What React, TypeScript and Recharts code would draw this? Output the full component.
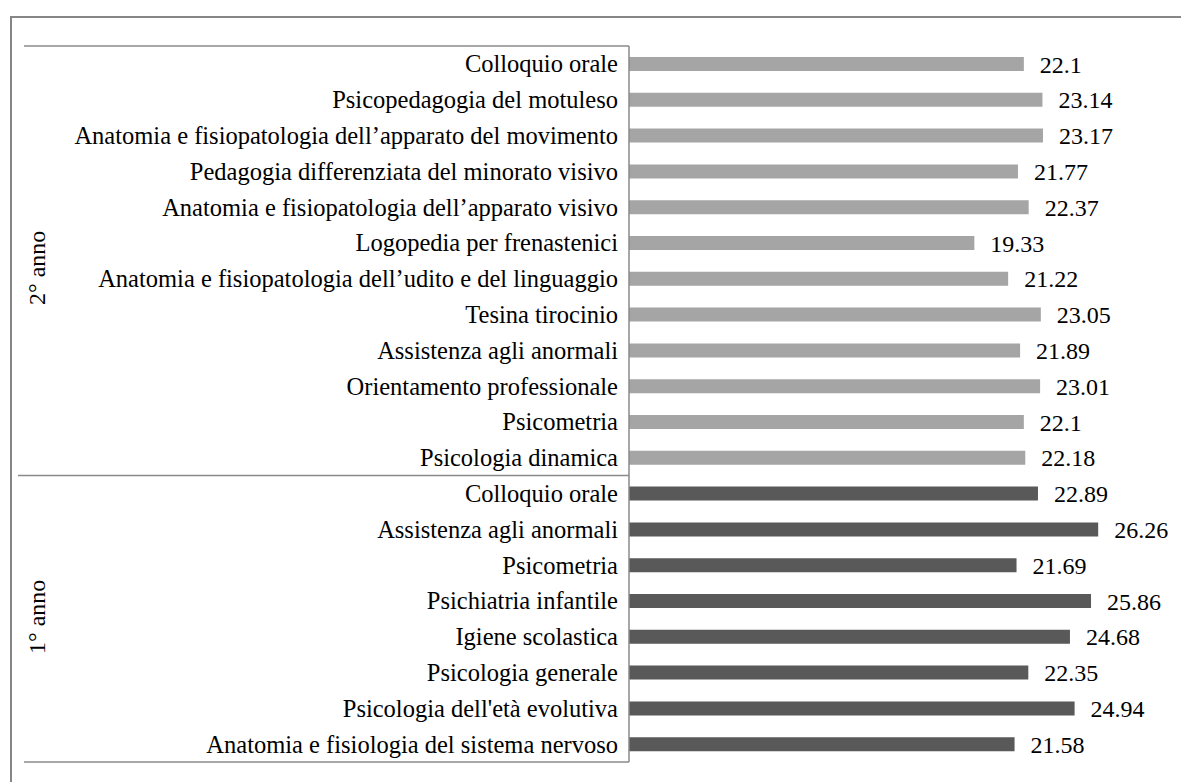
import React from 'react';
import { BarChart, Bar, XAxis, YAxis, LabelList, Cell } from 'recharts';

const categories: string[] = [
  'Colloquio orale',
  'Psicopedagogia del motuleso',
  'Anatomia e fisiopatologia dell’apparato del movimento',
  'Pedagogia differenziata del minorato visivo',
  'Anatomia e fisiopatologia dell’apparato visivo',
  'Logopedia per frenastenici',
  'Anatomia e fisiopatologia dell’udito e del linguaggio',
  'Tesina tirocinio',
  'Assistenza agli anormali',
  'Orientamento professionale',
  'Psicometria',
  'Psicologia dinamica',
  'Colloquio orale',
  'Assistenza agli anormali',
  'Psicometria',
  'Psichiatria infantile',
  'Igiene scolastica',
  'Psicologia generale',
  "Psicologia dell'età evolutiva",
  'Anatomia e fisiologia del sistema nervoso',
];

const values: number[] = [
  22.1, 23.14, 23.17, 21.77, 22.37, 19.33, 21.22, 23.05, 21.89, 23.01, 22.1, 22.18,
  22.89, 26.26, 21.69, 25.86, 24.68, 22.35, 24.94, 21.58,
];

const groups: string[] = [
  '2° anno', '2° anno', '2° anno', '2° anno', '2° anno', '2° anno',
  '2° anno', '2° anno', '2° anno', '2° anno', '2° anno', '2° anno',
  '1° anno', '1° anno', '1° anno', '1° anno', '1° anno', '1° anno', '1° anno', '1° anno',
];

const groupColors: Record<string, string> = {
  '2° anno': '#A5A5A5',
  '1° anno': '#595959',
};

const groupLabelShift: Record<string, number> = {
  '2° anno': 7,
  '1° anno': -2,
};

const data = categories.map((c, i) => ({
  key: `k${i}`,
  label: c,
  value: values[i],
  group: groups[i],
}));

const FONT = '"Liberation Serif", "Times New Roman", serif';
const CHART_W = 1181;
const CHART_H = 782;
const MARGIN = { top: 46, right: 16, bottom: 20, left: 0 };
const AXIS_W = 629;
const BAND = (CHART_H - MARGIN.top - MARGIN.bottom) / categories.length;
const LINE = '#8a8a8a';

const Tick = (props: any) => {
  const { x, y, payload } = props;
  const idx = payload.index as number;
  const axisX = x + 11;
  const top = y - BAND / 2;
  const bottom = y + BAND / 2;
  const els: React.ReactNode[] = [];
  const first = idx === 0 || groups[idx] !== groups[idx - 1];
  const last = idx === groups.length - 1;
  if (first) {
    els.push(
      <line key="t" x1={idx === 0 ? 24 : 18} x2={axisX} y1={top} y2={top} stroke={LINE} strokeWidth={1.5} />
    );
  }
  if (last) {
    els.push(<line key="b" x1={24} x2={axisX} y1={bottom} y2={bottom} stroke={LINE} strokeWidth={1.5} />);
  }
  let start = idx;
  while (start > 0 && groups[start - 1] === groups[idx]) start--;
  let end = idx;
  while (end < groups.length - 1 && groups[end + 1] === groups[idx]) end++;
  const count = end - start + 1;
  const midIdx = start + Math.floor(count / 2);
  if (idx === midIdx) {
    const cy = (count % 2 === 0 ? top : y) + (groupLabelShift[groups[idx]] || 0);
    els.push(
      <text
        key="g"
        x={37}
        y={cy}
        transform={`rotate(-90 37 ${cy})`}
        textAnchor="middle"
        dominantBaseline="central"
        fontFamily={FONT}
        fontSize={24}
        fill="#000"
      >
        {groups[idx]}
      </text>
    );
  }
  return (
    <g>
      {els}
      <text x={x} y={y} dy="0.35em" textAnchor="end" fontFamily={FONT} fontSize={24.5} fill="#000">
        {categories[idx]}
      </text>
    </g>
  );
};

export default function App() {
  return (
    <div style={{ position: 'fixed', left: 0, top: 0, width: CHART_W, height: CHART_H, overflow: 'hidden', background: '#fff' }}>
      <div
        style={{
          position: 'absolute',
          left: 10,
          top: 16,
          width: 1300,
          height: 900,
          border: '2px solid #868686',
          boxSizing: 'border-box',
        }}
      />
      <div style={{ position: 'absolute', left: 0, top: 0 }}>
        <BarChart width={CHART_W} height={CHART_H} data={data} layout="vertical" margin={MARGIN} barCategoryGap={0}>
          <XAxis type="number" domain={[0, 30]} hide />
          <YAxis
            type="category"
            dataKey="key"
            width={AXIS_W}
            tickLine={false}
            tickSize={0}
            tickMargin={11}
            axisLine={{ stroke: LINE, strokeWidth: 1.5 }}
            tick={<Tick />}
            interval={0}
          />
          <Bar dataKey="value" barSize={14} isAnimationActive={false}>
            {data.map((d, i) => (
              <Cell key={i} fill={groupColors[d.group]} />
            ))}
            <LabelList dataKey="value" position="right" offset={16} fontFamily={FONT} fontSize={24} fill="#000" />
          </Bar>
        </BarChart>
      </div>
    </div>
  );
}
